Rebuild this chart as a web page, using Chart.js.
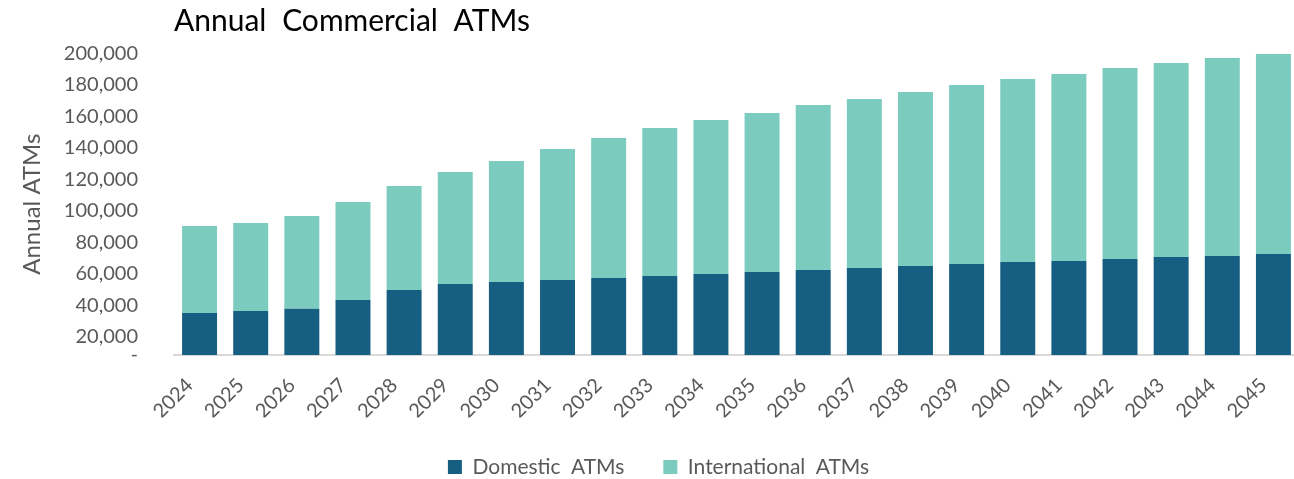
<!DOCTYPE html>
<html>
<head>
<meta charset="utf-8">
<script src="https://cdn.jsdelivr.net/npm/chart.js@4/dist/chart.umd.min.js"></script>
<style>
  html, body { margin: 0; padding: 0; background: #ffffff; overflow: hidden; }
  #wrap { width: 1300px; height: 479px; }
</style>
</head>
<body>
<div id="wrap"><canvas id="c" width="1300" height="479"></canvas></div>
<script>
// ---- data ----
const years = ['2024','2025','2026','2027','2028','2029','2030','2031','2032','2033','2034',
               '2035','2036','2037','2038','2039','2040','2041','2042','2043','2044','2045'];
const domesticATMs = [35100, 36400, 37700, 43400, 49700, 53500, 54800, 56100, 57300, 58600, 59900,
                      61100, 62400, 63700, 65000, 66200, 67500, 68100, 69400, 70700, 71300, 72600];
const internationalATMs = [55300, 55900, 59000, 62200, 66000, 71100, 76800, 83100, 88900, 94000, 97800,
                           101000, 104800, 107300, 110400, 113700, 116200, 118800, 121300, 123100, 125700, 127000];
const yTicks = [20000, 40000, 60000, 80000, 100000, 120000, 140000, 160000, 180000, 200000];
const yAxisMin = 8400;
const yAxisMax = 200000;

const seriesNames = ['Domestic ATMs', 'International ATMs'];
const chartTitle = 'Annual Commercial ATMs';
const yTitle = 'Annual ATMs';

const FONT = 'Lato';
const GREY = '#595959';

function wrapWS(box, methods, ws) {
  if (!box || box.__wsWrapped) return;
  box.__wsWrapped = true;
  methods.forEach(m => {
    const orig = box[m];
    if (typeof orig !== 'function') return;
    box[m] = function (...args) {
      const ctx = this.ctx;
      const has = ctx && ('wordSpacing' in ctx);
      const prev = has ? ctx.wordSpacing : null;
      if (has) ctx.wordSpacing = ws;
      try { return orig.apply(this, args); }
      finally { if (has) ctx.wordSpacing = prev; }
    };
  });
}
const wordSpacingPlugin = {
  id: 'wordSpacing',
  beforeLayout(chart) {
    wrapWS(chart.titleBlock, ['draw'], '8px');
    wrapWS(chart.legend, ['fit', 'draw'], '5px');
  }
};

new Chart(document.getElementById('c'), {
  type: 'bar',
  data: {
    labels: years,
    datasets: [
      { label: seriesNames[0], data: domesticATMs, backgroundColor: '#165F82', borderWidth: 0 },
      { label: seriesNames[1], data: internationalATMs, backgroundColor: '#7BCCBE', borderWidth: 0 }
    ]
  },
  plugins: [wordSpacingPlugin],
  options: {
    responsive: false,
    animation: false,
    devicePixelRatio: 1,
    layout: { padding: { left: 18, right: 1, top: 0, bottom: -8.5 } },
    datasets: { bar: { barPercentage: 0.684, categoryPercentage: 1.0 } },
    plugins: {
      tooltip: { enabled: false },
      title: {
        display: true,
        text: chartTitle,
        align: 'start',
        fullSize: false,
        color: '#000000',
        font: { family: FONT, size: 30, weight: 'normal' },
        padding: { top: 3, bottom: 14.3 }
      },
      legend: {
        position: 'bottom',
        labels: {
          color: GREY,
          font: { family: FONT, size: 21 },
          boxWidth: 14,
          boxHeight: 14,
          padding: 39
        }
      }
    },
    scales: {
      x: {
        stacked: true,
        grid: { display: false, drawTicks: false },
        border: { display: true, color: '#D9D9D9', width: 2 },
        ticks: {
          color: GREY,
          font: { family: FONT, size: 20 },
          minRotation: 45,
          maxRotation: 45,
          autoSkip: false,
          padding: 18.5,
          labelOffset: -10
        },
        afterFit(scale) {
          scale.height = 62.5;
          scale.paddingLeft = 0;
          scale.paddingRight = 0;
        }
      },
      y: {
        stacked: true,
        min: yAxisMin,
        max: yAxisMax,
        grid: { display: false, drawTicks: false },
        border: { display: false },
        title: {
          display: true,
          text: yTitle,
          color: GREY,
          font: { family: FONT, size: 24 },
          padding: { top: 0, bottom: 0 }
        },
        ticks: {
          color: GREY,
          font: { family: FONT, size: 20 },
          padding: 36,
          callback(value) {
            if (value <= yAxisMin) return '-';
            return Number(value).toLocaleString('en-US');
          }
        },
        afterBuildTicks(scale) {
          scale.ticks = [yAxisMin].concat(yTicks).map(v => ({ value: v }));
        },
        afterFit(scale) {
          scale.width = 156;
          scale.paddingTop = 0;
          scale.paddingBottom = 0;
        }
      }
    }
  }
});
</script>
</body>
</html>
